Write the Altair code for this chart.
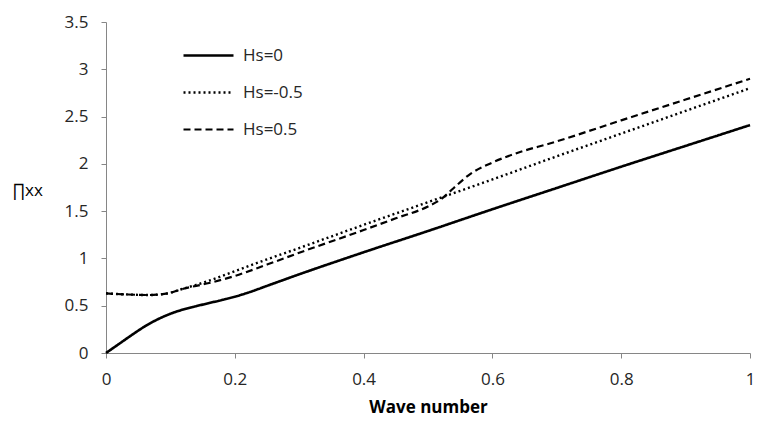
import altair as alt
import pandas as pd

series_names = ["Hs=0", "Hs=-0.5", "Hs=0.5"]

k_solid = [0, 0.02, 0.04, 0.06, 0.08, 0.10, 0.12, 0.14, 0.16, 0.18, 0.20, 0.22, 0.25, 0.30, 0.40, 0.50, 0.60, 0.70, 0.80, 0.90, 1.00]
v_solid = [0, 0.095, 0.19, 0.28, 0.355, 0.415, 0.46, 0.495, 0.528, 0.56, 0.595, 0.637, 0.71, 0.832, 1.065, 1.29, 1.52, 1.745, 1.97, 2.19, 2.41]

k_dot = [0, 0.03, 0.066, 0.096, 0.12, 0.14, 0.16, 0.20, 0.25, 0.30, 0.40, 0.50, 0.60, 0.70, 0.80, 0.90, 1.00]
v_dot = [0.63, 0.62, 0.613, 0.631, 0.68, 0.72, 0.765, 0.865, 0.99, 1.11, 1.355, 1.595, 1.835, 2.08, 2.32, 2.56, 2.80]

k_dash = [0, 0.03, 0.066, 0.096, 0.12, 0.14, 0.16, 0.20, 0.25, 0.30, 0.40, 0.45, 0.50, 0.52, 0.54, 0.566, 0.597, 0.643, 0.689, 0.80, 0.90, 1.00]
v_dash = [0.63, 0.62, 0.613, 0.631, 0.68, 0.71, 0.74, 0.815, 0.935, 1.06, 1.30, 1.424, 1.55, 1.625, 1.745, 1.895, 2.005, 2.125, 2.215, 2.46, 2.68, 2.90]

x_ticks = [0, 0.2, 0.4, 0.6, 0.8, 1]
y_ticks = [0, 0.5, 1, 1.5, 2, 2.5, 3, 3.5]

rows = []
for name, ks, vs in [("Hs=0", k_solid, v_solid), ("Hs=-0.5", k_dot, v_dot), ("Hs=0.5", k_dash, v_dash)]:
    for k, v in zip(ks, vs):
        rows.append({"k": k, "v": v, "series": name})
df = pd.DataFrame(rows)

FONT = "Open Sans"
AX = "#868686"
TXT = "#262626"

chart = alt.Chart(df).mark_line(color="black", interpolate="monotone").encode(
    x=alt.X("k:Q", scale=alt.Scale(domain=[0, 1], nice=False, zero=False),
            axis=alt.Axis(values=x_ticks, format="~g", title="Wave number", grid=False,
                          labelFlush=False, labelPadding=13, titlePadding=12,
                          titleFontWeight="bold")),
    y=alt.Y("v:Q", scale=alt.Scale(domain=[0, 3.5], nice=False),
            axis=alt.Axis(values=y_ticks, format="~g", title="∏xx", grid=False,
                          labelFlush=False,
                          titleAngle=0, titleAlign="left", titleBaseline="middle",
                          titleX=-94, titleY=168, titleFontWeight="normal", labelPadding=13)),
    strokeDash=alt.StrokeDash("series:N",
                              scale=alt.Scale(domain=series_names, range=[[1, 0], [2, 3], [7, 4]]),
                              legend=alt.Legend(title=None, orient="none", legendX=76, legendY=7,
                                                symbolType="stroke", symbolSize=2500,
                                                symbolStrokeWidth=2.6, symbolStrokeColor="black",
                                                labelOffset=8, rowPadding=2,
                                                labelFont=FONT, labelFontSize=17, labelColor=TXT)),
    strokeWidth=alt.StrokeWidth("series:N",
                                scale=alt.Scale(domain=series_names, range=[2.6, 2.2, 3.0]),
                                legend=None),
).properties(
    width=644, height=331,
    autosize=alt.AutoSizeParams(type="none"),
    padding={"left": 98, "top": 14, "right": 5, "bottom": 70},
).configure_view(stroke=None).configure_axis(
    domainColor=AX, tickColor=AX, tickSize=5,
    labelFont=FONT, labelFontSize=17, labelColor=TXT,
    titleFont=FONT, titleFontSize=17, titleColor="#000000",
)

chart.save("out.html", embed_options={"renderer": "svg", "actions": False})
